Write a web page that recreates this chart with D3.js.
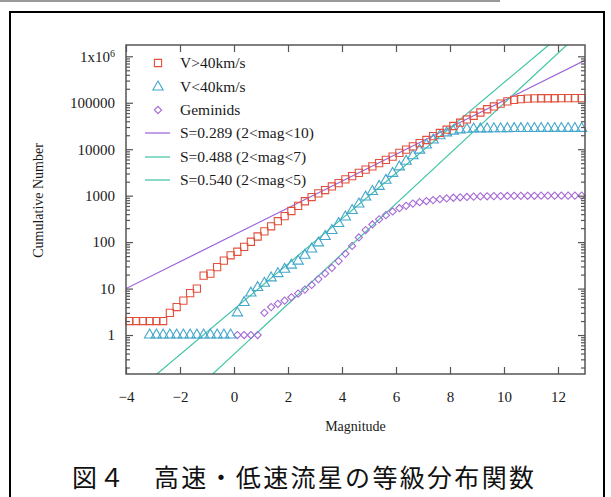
<!DOCTYPE html>
<meta charset="utf-8">
<title>Magnitude distribution</title>
<style>
  body { margin: 0; background: #fff; }
  svg text { font-family: "Liberation Serif", "DejaVu Serif", serif; fill: #1a1a1a; }
  .caption { font-family: "Noto Sans CJK JP", sans-serif; fill: #111; }
</style>
<body>
<script src="https://d3js.org/d3.v7.min.js"></script>
<script>
// bin centres (magnitude) shared by the three series
var binCenters = [-3.875, -3.625, -3.375, -3.125, -2.875, -2.625, -2.375, -2.125, -1.875, -1.625,
  -1.375, -1.125, -0.875, -0.625, -0.375, -0.125, 0.125, 0.375, 0.625, 0.875,
  1.125, 1.375, 1.625, 1.875, 2.125, 2.375, 2.625, 2.875, 3.125, 3.375,
  3.625, 3.875, 4.125, 4.375, 4.625, 4.875, 5.125, 5.375, 5.625, 5.875,
  6.125, 6.375, 6.625, 6.875, 7.125, 7.375, 7.625, 7.875, 8.125, 8.375,
  8.625, 8.875, 9.125, 9.375, 9.625, 9.875, 10.125, 10.375, 10.625, 10.875,
  11.125, 11.375, 11.625, 11.875, 12.125, 12.375, 12.625, 12.875];

// V>40km/s
var fastCounts = [2, 2, 2, 2, 2, 2, 3, 4, 5.5, 8,
  10, 19, 21, 29, 40, 52, 62, 79, 102, 132,
  170, 219, 282, 363, 468, 603, 759, 933, 1120, 1320,
  1580, 1860, 2240, 2630, 3090, 3630, 4270, 5010, 5890, 6920,
  8320, 9770, 11500, 13500, 15800, 19100, 22400, 26300, 31600, 37200,
  43700, 52500, 61700, 72400, 83200, 95500, 107000, 115000, 120000, 123000,
  124000, 125000, 125000, 125000, 126000, 126000, 126000, 126000];

// V<40km/s
var slowCounts = [null, null, null, 1, 1, 1, 1, 1, 1, 1,
  1, 1, 1, 1, 1, 1, 3, 5, 8, 10.5,
  13, 17, 21, 26, 32, 39, 52, 71, 96, 132,
  178, 251, 347, 479, 661, 933, 1230, 1585, 2140, 3020,
  4170, 5500, 7240, 9550, 12300, 15800, 19500, 22400, 24500, 26000,
  26900, 27200, 27300, 27400, 27500, 27600, 27700, 27800, 27800, 27900,
  27900, 28000, 28000, 28000, 28000, 28000, 28000, 28000];

// Geminids
var gemCounts = [null, null, null, null, null, null, null, null, null, null,
  null, null, null, null, null, null, 1, 1, 1, 1,
  3, 4, 4.7, 5.5, 6.5, 7.8, 9.5, 12, 16, 21,
  28, 39, 56, 83, 126, 182, 240, 309, 380, 457,
  537, 603, 676, 724, 767, 804, 841, 871, 902, 923,
  938, 950, 962, 970, 975, 980, 985, 990, 990, 995,
  995, 1000, 1000, 1000, 1000, 1000, 1000, 1000];

// power-law fits: log10 N = intercept + slope * mag
var fitLabels = ["S=0.289 (2<mag<10)", "S=0.488 (2<mag<7)", "S=0.540 (2<mag<5)"];
var fitSlopes = [0.289, 0.488, 0.540];
var fitIntercepts = [2.156, 0.554, -0.413];

var seriesLabels = ["V>40km/s", "V<40km/s", "Geminids"];
var xTicks = [-4, -2, 0, 2, 4, 6, 8, 10, 12];
var yTicks = [1, 10, 100, 1000, 10000, 100000, 1000000];
var yTickLabels = ["1", "10", "100", "1000", "10000", "100000", "1x10"];

var colRed = "#e2503c", colBlue = "#43a6cc", colPurple = "#a66ad8",
    colLinePurple = "#9a62d6", colTeal = "#3fc4a4";

var W = 611, H = 497;
var margin = {top: 45, right: 26, bottom: 123, left: 126};
var width = W - margin.left - margin.right,
    height = H - margin.top - margin.bottom;

var svg = d3.select("body").append("svg")
    .attr("width", W).attr("height", H);

// page decoration: thin grey rule and black frame
svg.append("line").attr("x1", 0).attr("x2", 500).attr("y1", 1).attr("y2", 1)
    .attr("stroke", "#777").attr("stroke-width", 1.5);
svg.append("rect").attr("x", 10).attr("y", 12).attr("width", 594).attr("height", 500)
    .attr("fill", "none").attr("stroke", "#000").attr("stroke-width", 2);

var g = svg.append("g")
    .attr("transform", "translate(" + margin.left + "," + margin.top + ")");

var x = d3.scaleLinear().domain([-4, 13]).range([0, width]);
var y = d3.scaleLog().domain([0.145, 1.75e6]).range([height, 0]);

g.append("clipPath").attr("id", "clip")
  .append("rect").attr("width", width).attr("height", height);

// fit lines
var fitColors = [colLinePurple, colTeal, colTeal];
fitSlopes.forEach(function(s, i) {
  var m0 = -4, m1 = 13;
  g.append("line")
    .attr("clip-path", "url(#clip)")
    .attr("x1", x(m0)).attr("y1", y(Math.pow(10, fitIntercepts[i] + s * m0)))
    .attr("x2", x(m1)).attr("y2", y(Math.pow(10, fitIntercepts[i] + s * m1)))
    .attr("stroke", fitColors[i]).attr("stroke-width", 1.2);
});

// markers
function pts(vals) {
  return binCenters.map(function(m, i) { return {m: m, v: vals[i]}; })
    .filter(function(d) { return d.v != null; });
}
var sq = d3.symbol().type(d3.symbolSquare).size(52);
var tri = d3.symbol().type(d3.symbolTriangle).size(46);
var dia = d3.symbol().type(d3.symbolSquare).size(26); // drawn rotated 45deg
var symRot = [0, 0, 45];

function drawSeries(vals, sym, col, rot) {
  g.append("g").selectAll("path")
    .data(pts(vals)).enter().append("path")
    .attr("d", sym)
    .attr("transform", function(d) {
      return "translate(" + x(d.m) + "," + y(d.v) + ") rotate(" + rot + ")"; })
    .attr("fill", "none").attr("stroke", col).attr("stroke-width", 1.1);
}
drawSeries(gemCounts, dia, colPurple, 45);
drawSeries(slowCounts, tri, colBlue, 0);
drawSeries(fastCounts, sq, colRed, 0);

// axes: ticks inward on all four sides
var frameCol = "#555";
function minorTicks() {
  var out = [];
  [0.1, 1, 10, 100, 1000, 10000, 100000, 1000000].forEach(function(dec) {
    for (var k = 2; k <= 9; k++) {
      var v = dec * k;
      if (v > y.domain()[0] && v < y.domain()[1]) out.push(v);
    }
  });
  return out;
}
var minors = minorTicks();

var xb = g.append("g").attr("transform", "translate(0," + height + ")")
  .call(d3.axisBottom(x).tickValues(xTicks).tickSizeInner(-7).tickSizeOuter(0).tickPadding(17));
var xt = g.append("g")
  .call(d3.axisTop(x).tickValues(xTicks).tickSizeInner(-7).tickSizeOuter(0).tickFormat(""));
var yl = g.append("g")
  .call(d3.axisLeft(y).tickValues(yTicks).tickSizeInner(-7).tickSizeOuter(0).tickPadding(11)
    .tickFormat(function(d, i) { return yTickLabels[i]; }));
var yr = g.append("g").attr("transform", "translate(" + width + ",0)")
  .call(d3.axisRight(y).tickValues(yTicks).tickSizeInner(-7).tickSizeOuter(0).tickFormat(""));
var yl2 = g.append("g")
  .call(d3.axisLeft(y).tickValues(minors).tickSizeInner(-4).tickSizeOuter(0).tickFormat(""));
var yr2 = g.append("g").attr("transform", "translate(" + width + ",0)")
  .call(d3.axisRight(y).tickValues(minors).tickSizeInner(-4).tickSizeOuter(0).tickFormat(""));

[xb, xt, yl, yr, yl2, yr2].forEach(function(a) {
  a.select(".domain").remove();
  a.selectAll("line").attr("stroke", frameCol).attr("stroke-width", 1.2);
  a.selectAll("text").style("font-family", "'Liberation Serif', serif").attr("font-size", 15).attr("fill", "#1a1a1a");
});

// exponent on the top label
yl.selectAll(".tick").filter(function(d) { return d === 1000000; }).select("text")
  .append("tspan").attr("dy", "-0.5em").attr("font-size", 10).text("6");

g.append("rect").attr("width", width).attr("height", height)
  .attr("fill", "none").attr("stroke", frameCol).attr("stroke-width", 1.5);

// axis titles
g.append("text").attr("x", width / 2).attr("y", height + 57)
  .attr("text-anchor", "middle").attr("font-size", 14).text("Magnitude");
g.append("text").attr("transform", "rotate(-90)")
  .attr("x", -height / 2 + 9).attr("y", -83)
  .attr("text-anchor", "middle").attr("font-size", 14).text("Cumulative Number");

// legend
var leg = g.append("g");
var legY = [18, 42, 65, 88, 112, 135];
var syms = [sq, tri, dia], symCols = [colRed, colBlue, colPurple];
seriesLabels.forEach(function(t, i) {
  leg.append("path").attr("d", syms[i])
    .attr("transform", "translate(" + 32 + "," + legY[i] + ") rotate(" + symRot[i] + ")")
    .attr("fill", "none").attr("stroke", symCols[i]).attr("stroke-width", 1.1);
  leg.append("text").attr("x", 54).attr("y", legY[i] + 5).attr("font-size", 15.5).text(t);
});
fitLabels.forEach(function(t, i) {
  var yy = legY[i + 3];
  leg.append("line").attr("x1", 19).attr("x2", 44).attr("y1", yy).attr("y2", yy)
    .attr("stroke", fitColors[i]).attr("stroke-width", 1.2);
  leg.append("text").attr("x", 54).attr("y", yy + 5).attr("font-size", 15.5).text(t);
});

// caption
svg.append("text").attr("class", "caption")
  .attr("x", 72).attr("y", 487)
  .attr("font-size", 25).attr("textLength", 462).attr("lengthAdjust", "spacing")
  .text("図４　高速・低速流星の等級分布関数");
</script>
</body>
